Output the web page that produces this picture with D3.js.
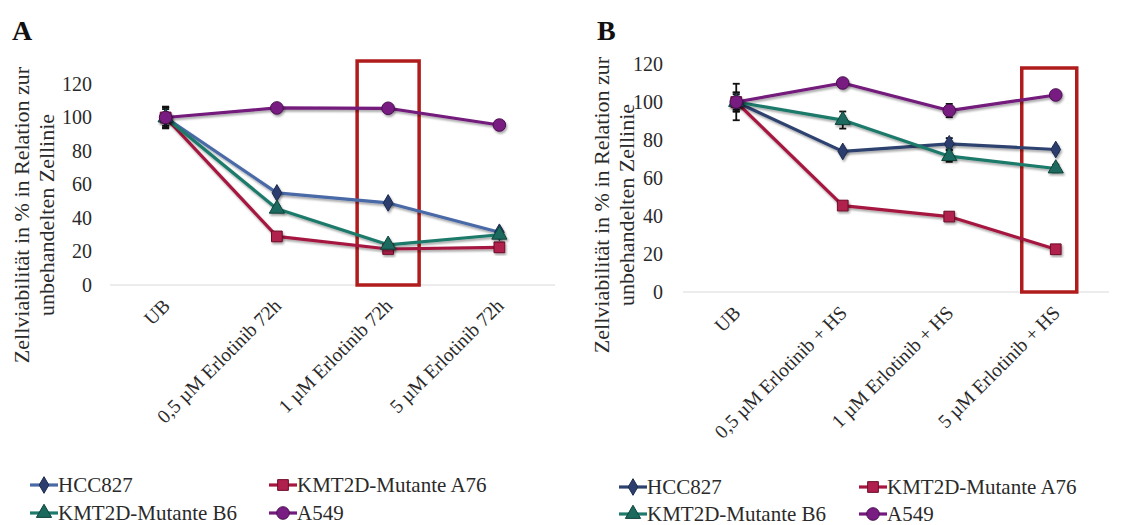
<!DOCTYPE html>
<html>
<head>
<meta charset="utf-8">
<script src="https://cdn.jsdelivr.net/npm/d3@7"></script>
<style>
  html, body { margin: 0; padding: 0; background: #ffffff; }
  svg { display: block; }
</style>
</head>
<body>
<svg id="chart" width="1132" height="525"></svg>
<script>
// ---------------- DATA ----------------
const categoriesA = ["UB", "0,5 µM Erlotinib 72h", "1 µM Erlotinib 72h", "5 µM Erlotinib 72h"];
const categoriesB = ["UB", "0,5 µM Erlotinib + HS", "1 µM Erlotinib + HS", "5 µM Erlotinib + HS"];
const seriesNames = ["HCC827", "KMT2D-Mutante A76", "KMT2D-Mutante B6", "A549"];
const yTicks = [0, 20, 40, 60, 80, 100, 120];

// Panel A values (%)
const hccA  = [100, 55, 49, 31.5];
const a76A  = [100, 29, 21.5, 22.5];
const b6A   = [100, 45.5, 24, 30];
const a549A = [100, 105.7, 105.5, 95.5];
// Panel A error (±)
const hccErrA  = [6, 1, 1, 1];
const a76ErrA  = [6, 1, 1, 1];
const b6ErrA   = [5, 1.5, 1, 1];
const a549ErrA = [6.5, 1, 1, 1];

// Panel B values (%)
const hccB  = [100, 74, 78, 75];
const a76B  = [100, 45.5, 39.7, 22.5];
const b6B   = [100, 90.5, 71.5, 65];
const a549B = [100, 110, 95.5, 103.7];
// Panel B error (±)
const hccErrB  = [9.6, 1, 3, 1.5];
const a76ErrB  = [5, 1, 1, 1];
const b6ErrB   = [4, 4.5, 3, 2];
const a549ErrB = [5, 1, 3.5, 1.5];

// highlighted category (red box)
const highlightA = "1 µM Erlotinib 72h";
const highlightB = "5 µM Erlotinib + HS";

// ---------------- STYLE ----------------
const FONT = "'Liberation Serif', 'DejaVu Serif', serif";
const TEXT_COLOR = "#2a2a2a";
const markerShapes = ["diamond", "square", "triangle", "circle"];
const styleA = [
  { line: "#4a6aa6", fill: "#2b3e6e", stroke: "#1c2a4d" },
  { line: "#a5173f", fill: "#b0204e", stroke: "#6e0c28" },
  { line: "#1f7a6b", fill: "#1c6a5e", stroke: "#0f433b" },
  { line: "#731a7c", fill: "#781d82", stroke: "#4a0f50" }
];
const styleB = [
  { line: "#2e4270", fill: "#2b3e6e", stroke: "#1c2a4d" },
  { line: "#a5173f", fill: "#b0204e", stroke: "#6e0c28" },
  { line: "#1f7a6b", fill: "#1c6a5e", stroke: "#0f433b" },
  { line: "#731a7c", fill: "#781d82", stroke: "#4a0f50" }
];

const svg = d3.select("#chart");
const defs = svg.append("defs");
const f = defs.append("filter").attr("id", "shadow")
  .attr("x", "-30%").attr("y", "-30%").attr("width", "160%").attr("height", "160%");
f.append("feDropShadow").attr("dx", 1.2).attr("dy", 2).attr("stdDeviation", 1.2)
  .attr("flood-color", "#000").attr("flood-opacity", 0.35);

function markerPath(shape) {
  const sym = { diamond: d3.symbolDiamond, square: d3.symbolSquare,
                triangle: d3.symbolTriangle, circle: d3.symbolCircle }[shape];
  const size = { diamond: 80, square: 115, triangle: 100, circle: 125 }[shape];
  return d3.symbol().type(sym).size(size)();
}

function font(sel, size) {
  return sel.attr("font-family", FONT).style("font-family", FONT)
    .attr("font-size", size).style("font-size", size + "px")
    .attr("fill", TEXT_COLOR).style("fill", TEXT_COLOR);
}

function drawPanel(cfg) {
  const g = svg.append("g");
  const x = d3.scalePoint().domain(cfg.categories).range([cfg.x0, cfg.x1]).padding(0.5);
  const y = d3.scaleLinear().domain([0, 120]).range([cfg.yBottom, cfg.yTop]);

  // panel letter
  font(g.append("text").attr("x", cfg.letterX).attr("y", 40), 28)
    .style("font-weight", "bold").style("fill", "#111")
    .text(cfg.letter);

  // baseline gridline at 0
  g.append("line").attr("x1", cfg.x0).attr("x2", cfg.x1)
    .attr("y1", y(0)).attr("y2", y(0))
    .attr("stroke", "#d9d9d9").attr("stroke-width", 1);

  // y axis (labels only)
  const yAxis = d3.axisLeft(y).tickValues(yTicks).tickSize(0).tickPadding(cfg.tickPad);
  const ya = g.append("g").attr("transform", `translate(${cfg.x0},0)`).call(yAxis);
  ya.attr("font-family", FONT);
  ya.select(".domain").remove();
  font(ya.selectAll("text"), 20);

  // x axis labels (rotated)
  const xAxis = d3.axisBottom(x).tickSize(0).tickPadding(0);
  const xa = g.append("g").attr("transform", `translate(0,${y(0)})`).call(xAxis);
  xa.attr("font-family", FONT);
  xa.select(".domain").remove();
  font(xa.selectAll("text"), 19.5)
    .attr("text-anchor", "end")
    .attr("dy", null).attr("y", 0)
    .attr("transform", `translate(5,${cfg.labelDrop}) rotate(-45)`);

  // y axis title
  const tx = font(g.append("text"), 22)
    .attr("transform", `translate(${cfg.titleX},${cfg.titleY}) rotate(-90)`)
    .attr("text-anchor", "middle");
  tx.append("tspan").attr("x", 0).attr("dy", 0).text("Zellviabilität in % in Relation zur");
  tx.append("tspan").attr("x", 0).attr("dy", 25).text("unbehandelten Zellinie");

  // red highlight box
  const hx = x(cfg.highlight) + cfg.boxOffset;
  g.append("rect")
    .attr("x", hx - cfg.boxW / 2).attr("y", cfg.boxTop)
    .attr("width", cfg.boxW).attr("height", y(0) - cfg.boxTop)
    .attr("fill", "none").attr("stroke", "#b01c1c").attr("stroke-width", 3.5);

  // series lines
  const line = d3.line().x((d, i) => x(cfg.categories[i])).y(d => y(d));
  cfg.series.forEach((vals, si) => {
    const st = cfg.styles[si];
    g.append("path").datum(vals).attr("d", line)
      .attr("fill", "none").attr("stroke", st.line).attr("stroke-width", 3.2)
      .attr("stroke-linejoin", "round").attr("filter", "url(#shadow)");
  });
  // error bars
  cfg.series.forEach((vals, si) => {
    const errs = cfg.errors[si];
    vals.forEach((v, i) => {
      const cx = x(cfg.categories[i]);
      const e = errs[i];
      const eg = g.append("g").attr("stroke", "#111").attr("stroke-width", 1.8);
      eg.append("line").attr("x1", cx).attr("x2", cx).attr("y1", y(v + e)).attr("y2", y(v - e));
      eg.append("line").attr("x1", cx - 3.5).attr("x2", cx + 3.5).attr("y1", y(v + e)).attr("y2", y(v + e));
      eg.append("line").attr("x1", cx - 3.5).attr("x2", cx + 3.5).attr("y1", y(v - e)).attr("y2", y(v - e));
    });
  });
  // markers
  cfg.series.forEach((vals, si) => {
    const st = cfg.styles[si];
    g.append("g").selectAll("path").data(vals).join("path")
      .attr("d", markerPath(markerShapes[si]))
      .attr("transform", (d, i) => `translate(${x(cfg.categories[i])},${y(d)})`)
      .attr("fill", st.fill).attr("stroke", st.stroke).attr("stroke-width", 1)
      .attr("filter", "url(#shadow)");
  });

  // legend
  seriesNames.forEach((name, si) => {
    const st = cfg.styles[si];
    const col = si % 2;
    const row = si < 2 ? 0 : 1;
    const lx = cfg.legendX[col];
    const ly = cfg.legendY[row];
    const lg = g.append("g");
    lg.append("line").attr("x1", lx).attr("x2", lx + 28).attr("y1", ly).attr("y2", ly)
      .attr("stroke", st.line).attr("stroke-width", 3.2);
    lg.append("path").attr("d", markerPath(markerShapes[si]))
      .attr("transform", `translate(${lx + 14},${ly})`)
      .attr("fill", st.fill).attr("stroke", st.stroke).attr("stroke-width", 1);
    font(lg.append("text"), 21).attr("x", lx + 28).attr("y", ly + 7).text(name);
  });
}

drawPanel({
  letter: "A", letterX: 12,
  categories: categoriesA,
  series: [hccA, a76A, b6A, a549A],
  errors: [hccErrA, a76ErrA, b6ErrA, a549ErrA],
  styles: styleA,
  x0: 110, x1: 555, yTop: 84, yBottom: 285,
  tickPad: 18, labelDrop: 22,
  titleX: 29, titleY: 215,
  highlight: highlightA, boxOffset: 0, boxW: 62, boxTop: 61,
  legendX: [30, 269], legendY: [485, 513]
});

drawPanel({
  letter: "B", letterX: 597,
  categories: categoriesB,
  series: [hccB, a76B, b6B, a549B],
  errors: [hccErrB, a76ErrB, b6ErrB, a549ErrB],
  styles: styleB,
  x0: 683, x1: 1109, yTop: 64, yBottom: 292,
  tickPad: 20, labelDrop: 22,
  titleX: 609, titleY: 205,
  highlight: highlightB, boxOffset: -6.5, boxW: 55, boxTop: 68,
  legendX: [619, 859], legendY: [487, 514]
});
</script>
</body>
</html>
